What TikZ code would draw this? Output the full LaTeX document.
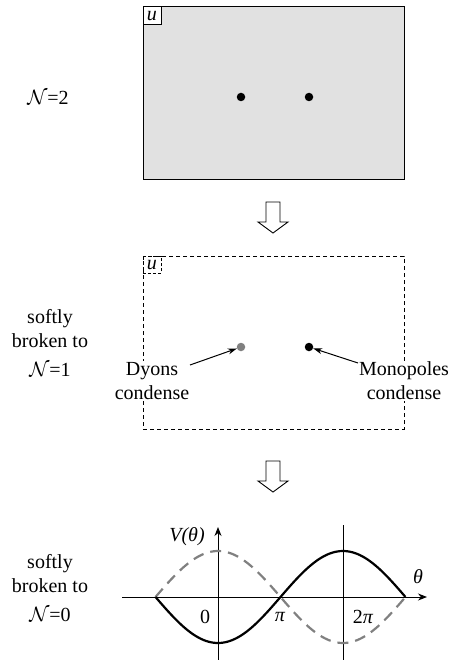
\documentclass[tikz,border=0pt]{standalone}
\usepackage{fontspec}
\setmainfont{Liberation Serif}
\usetikzlibrary{arrows.meta}
\definecolor{boxgray}{HTML}{E1E1E1}
\definecolor{midgray}{HTML}{808080}
\tikzset{
  lbl/.style={font=\fontsize{20}{24}\selectfont, inner sep=0pt, align=center},
  plane/.style={draw, line width=1pt, minimum width=261pt, minimum height=173pt, inner sep=0pt},
  ubox/.style={draw, line width=0.9pt, minimum width=18pt, minimum height=17.5pt, inner sep=0pt, font=\fontsize{20}{24}\selectfont\itshape, anchor=north west},
  pt/.style={circle, fill, inner sep=0pt, minimum size=8.5pt},
  hollow/.style={draw, line width=0.9pt, fill=white},
  ptr/.style={line width=1pt, -{Stealth[length=9pt,width=6pt]}},
  axis/.style={line width=1pt, -{Stealth[length=9pt,width=7pt]}},
  vline/.style={line width=1pt},
  curve/.style={line width=2.2pt},
  dcurve/.style={line width=2.2pt, midgray, dash pattern=on 11pt off 7pt},
}
\begin{document}
\begin{tikzpicture}[x=1pt,y=-1pt]
\useasboundingbox (0,0) rectangle (457,660);
% Panel 1
\node[plane, fill=boxgray] (box1) at (273.5,93.5) {};
\node[ubox, fill=white] (u1) at (box1.north west) {u};
\node[pt] (d1) at (241,97) {};
\node[pt] (m1) at (309,97) {};
\node[lbl] (n2) at (48,97) {$\mathcal{N}$=2};
% Arrow 1
\draw[hollow] (266,202) -- (280,202) -- (280,222) -- (288,222) -- (273,233) -- (258,222) -- (266,222) -- cycle;
% Panel 2
\node[plane, dash pattern=on 4pt off 3pt] (box2) at (273.5,342.5) {};
\node[ubox, dash pattern=on 3pt off 2pt] (u2) at (box2.north west) {u};
\node[pt, fill=midgray] (d2) at (241,347) {};
\node[pt] (m2) at (309,347) {};
\node[lbl] (n1) at (50,343) {softly\\broken to\\[5pt]$\mathcal{N}$=1};
\node[lbl, fill=white, inner sep=1pt] (dyons) at (152,381) {Dyons\\condense};
\node[lbl, fill=white, inner sep=1pt] (mono) at (404,381) {Monopoles\\condense};
\coordinate (dyt) at (190,365);
\coordinate (mot) at (358,363);
\draw[ptr] (dyt) -- (d2);
\draw[ptr] (mot) -- (m2);
% Arrow 2
\draw[hollow] (266,461) -- (280,461) -- (280,481) -- (288,481) -- (273,492) -- (258,481) -- (266,481) -- cycle;
% Panel 3
\node[lbl] (n0) at (50,588) {softly\\broken to\\[5pt]$\mathcal{N}$=0};
\coordinate (xs) at (122,597);
\coordinate (xe) at (427,597);
\coordinate (ys) at (218,660);
\coordinate (ye) at (218,527);
\coordinate (vs) at (343,660);
\coordinate (ve) at (343,525);
\draw[axis] (xs) -- (xe);
\draw[axis] (ys) -- (ye);
\draw[vline] (vs) -- (ve);
\draw[dcurve] plot[domain=-1:3, samples=100] ({218+62.5*\x},{597-46*cos(90*\x)});
\draw[curve] plot[domain=-1:3, samples=100] ({218+62.5*\x},{597+46*cos(90*\x)});
\node[lbl] (vth) at (187,537) {\itshape V(θ)};
\node[lbl] (th) at (418,577) {\itshape θ};
\node[lbl] (z) at (205,617) {0};
\node[lbl] (p1) at (280,617) {\itshape π};
\node[lbl] (p2) at (363,617) {2\itshape π};
\end{tikzpicture}
\end{document}
